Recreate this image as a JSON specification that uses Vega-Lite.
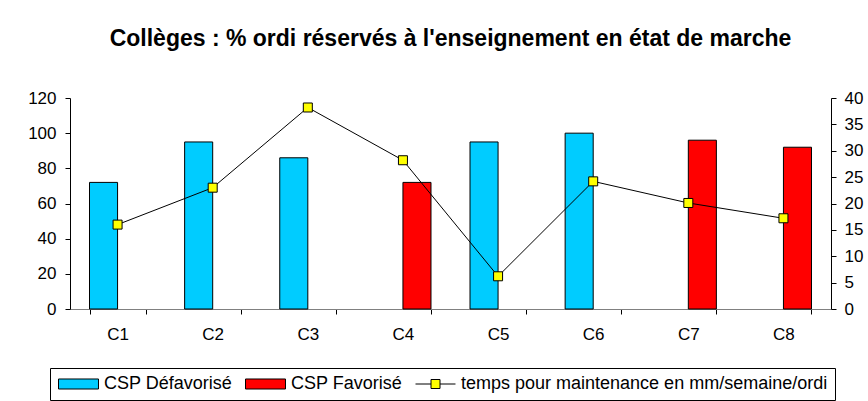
{
  "$schema": "https://vega.github.io/schema/vega-lite/v6.json",
  "width": 761,
  "height": 211,
  "autosize": "none",
  "padding": {"left": 70, "top": 98, "right": 37, "bottom": 92},
  "background": "white",
  "config": {
    "view": {"stroke": null},
    "font": "Liberation Sans",
    "axis": {"labelFont": "Liberation Sans", "labelFontSize": 17, "labelColor": "black", "grid": false, "domainColor": "black", "tickColor": "black", "title": null}
  },
  "title": {"text": "Collèges : % ordi réservés à l'enseignement en état de marche", "font": "Liberation Sans", "fontSize": 23, "fontWeight": "bold", "color": "black", "offset": 38, "anchor": "middle"},
  "datasets": {
    "bars": [
      {"college": "C1", "serie": "CSP Défavorisé", "pct": 72},
      {"college": "C2", "serie": "CSP Défavorisé", "pct": 95},
      {"college": "C3", "serie": "CSP Défavorisé", "pct": 86},
      {"college": "C4", "serie": "CSP Favorisé", "pct": 72},
      {"college": "C5", "serie": "CSP Défavorisé", "pct": 95},
      {"college": "C6", "serie": "CSP Défavorisé", "pct": 100},
      {"college": "C7", "serie": "CSP Favorisé", "pct": 96},
      {"college": "C8", "serie": "CSP Favorisé", "pct": 92}
    ],
    "temps": [
      {"college": "C1", "serie": "temps pour maintenance en mm/semaine/ordi", "temps": 16},
      {"college": "C2", "serie": "temps pour maintenance en mm/semaine/ordi", "temps": 23},
      {"college": "C3", "serie": "temps pour maintenance en mm/semaine/ordi", "temps": 38.2},
      {"college": "C4", "serie": "temps pour maintenance en mm/semaine/ordi", "temps": 28.2},
      {"college": "C5", "serie": "temps pour maintenance en mm/semaine/ordi", "temps": 6.2},
      {"college": "C6", "serie": "temps pour maintenance en mm/semaine/ordi", "temps": 24.2},
      {"college": "C7", "serie": "temps pour maintenance en mm/semaine/ordi", "temps": 20.1},
      {"college": "C8", "serie": "temps pour maintenance en mm/semaine/ordi", "temps": 17.2}
    ]
  },
  "encoding": {
    "x": {
      "field": "college", "type": "nominal",
      "scale": {"paddingInner": 0.41, "paddingOuter": 0.205},
      "axis": {"labelAngle": 0, "tickBand": "extent", "tickSize": 5, "labelPadding": 12, "domainColor": "#808080", "tickColor": "black"}
    }
  },
  "layer": [
    {
      "data": {"name": "bars"},
      "mark": {"type": "bar", "stroke": "black", "strokeWidth": 1},
      "encoding": {
        "xOffset": {"field": "serie", "type": "nominal", "scale": {"domain": ["CSP Défavorisé", "CSP Favorisé"], "paddingInner": 0, "paddingOuter": 0}},
        "y": {"field": "pct", "type": "quantitative", "scale": {"domain": [0, 120]}, "axis": {"tickCount": 7, "tickSize": 5, "labelPadding": 9}},
        "color": {
          "field": "serie", "type": "nominal",
          "scale": {"domain": ["CSP Défavorisé", "CSP Favorisé", "temps pour maintenance en mm/semaine/ordi"], "range": ["#00CCFF", "#FF0000", "#FFFF00"]},
          "legend": {
            "orient": "none", "legendX": -20, "legendY": 270, "direction": "horizontal", "title": null,
            "padding": 7, "strokeColor": "black", "fillColor": "white",
            "symbolSize": 225, "symbolStrokeColor": "black", "symbolStrokeWidth": 1, "symbolOpacity": 1,
            "labelFont": "Liberation Sans", "labelFontSize": 18, "labelColor": "black", "labelOffset": 29, "labelLimit": 0, "columnPadding": 10,
            "encode": {
              "symbols": {
                "update": {
                  "shape": {"signal": "datum.value === 'temps pour maintenance en mm/semaine/ordi' ? 'M-1,0H1.067M2.267,0H4.333M1.067,-0.6H2.267V0.6H1.067Z' : 'M-1,-0.667H4.333V0.667H-1Z'"},
                  "stroke": {"value": "black"},
                  "strokeWidth": {"value": 1},
                  "opacity": {"value": 1}
                }
              }
            }
          }
        }
      }
    },
    {
      "data": {"name": "temps"},
      "encoding": {
        "y": {"field": "temps", "type": "quantitative", "scale": {"domain": [0, 40]}, "axis": {"orient": "right", "tickCount": 9, "tickSize": 5, "labelPadding": 8, "labelOverlap": false}}
      },
      "layer": [
        {
          "mark": {"type": "line", "color": "black", "strokeWidth": 1}
        },
        {
          "mark": {"type": "square", "filled": true, "opacity": 1, "stroke": "black", "strokeWidth": 1, "size": 81},
          "encoding": {
            "color": {"field": "serie", "type": "nominal"}
          }
        }
      ]
    }
  ],
  "resolve": {"scale": {"y": "independent"}}
}
